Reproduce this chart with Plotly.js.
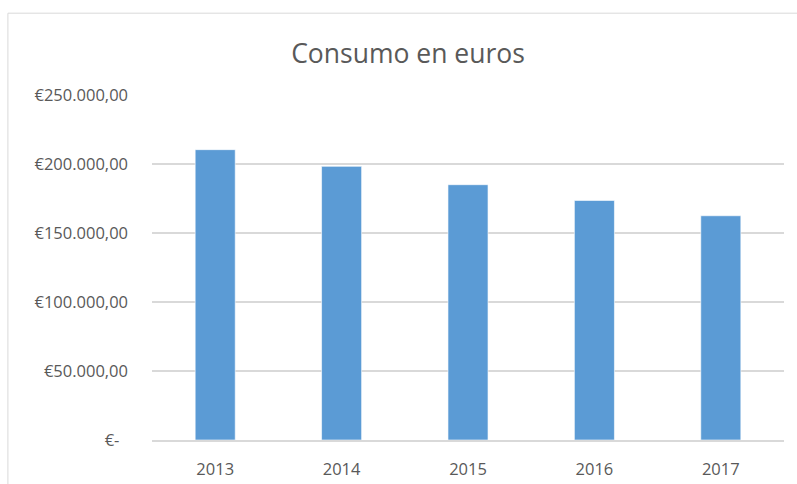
<!DOCTYPE html>
<html>
<head>
<meta charset="utf-8">
<script src="https://cdn.plot.ly/plotly-3.0.1.min.js"></script>
<style>html,body{margin:0;padding:0;background:#fff;}#chart{width:797px;height:484px;}</style>
</head>
<body>
<div id="chart"></div>
<script>
const years = ["2013", "2014", "2015", "2016", "2017"];
const consumo = [210400, 198300, 185000, 173600, 162500];
const tickValues = [0, 50000, 100000, 150000, 200000, 250000];
const tickLabels = ["€-\u00a0\u00a0", "€50.000,00", "€100.000,00", "€150.000,00", "€200.000,00", "€250.000,00"];
const chartTitle = "Consumo en euros";

const W = 797, H = 484;
const L = 152.4, R = 783.6, T = 95.3, B = 440.3;
const pw = R - L, ph = B - T;

const data = [{
  type: "bar",
  x: years,
  y: consumo,
  marker: { color: "#5B9BD5", line: { color: "rgba(255,255,255,0.6)", width: 1 } },
  hoverinfo: "skip"
}];

const layout = {
  width: W, height: H,
  margin: { l: L, r: W - R, t: T, b: H - B, pad: 0 },
  paper_bgcolor: "#ffffff",
  plot_bgcolor: "#ffffff",
  showlegend: false,
  bargap: 0.683,
  font: { family: "Open Sans, sans-serif", color: "#595959", size: 16 },
  title: {
    text: chartTitle,
    font: { family: "Open Sans, sans-serif", size: 26.5, color: "#595959" },
    x: 408 / W, xanchor: "center", xref: "container",
    y: 1 - 54 / H, yanchor: "middle", yref: "container"
  },
  xaxis: {
    type: "category",
    showgrid: false,
    showline: true, linecolor: "#d9d9d9", linewidth: 1.5,
    ticks: "", ticklabelstandoff: 14,
    tickfont: { size: 16.5, color: "#595959" },
    fixedrange: true
  },
  yaxis: {
    range: [0, 250000],
    tickmode: "array", tickvals: tickValues, ticktext: tickLabels,
    showgrid: true, gridcolor: "#d9d9d9", gridwidth: 1.5,
    zeroline: false, showline: false,
    ticks: "", ticklabelstandoff: 23,
    tickfont: { size: 16.5, color: "#595959" },
    fixedrange: true
  },
  shapes: [{
    type: "rect", xref: "paper", yref: "paper",
    x0: (8.5 - L) / pw, x1: (830 - L) / pw,
    y0: (B - 520) / ph, y1: (B - 13.5) / ph,
    line: { color: "#d9d9d9", width: 1 },
    fillcolor: "rgba(0,0,0,0)", layer: "below"
  }]
};

Plotly.newPlot("chart", data, layout, { displayModeBar: false, staticPlot: true });
</script>
</body>
</html>
